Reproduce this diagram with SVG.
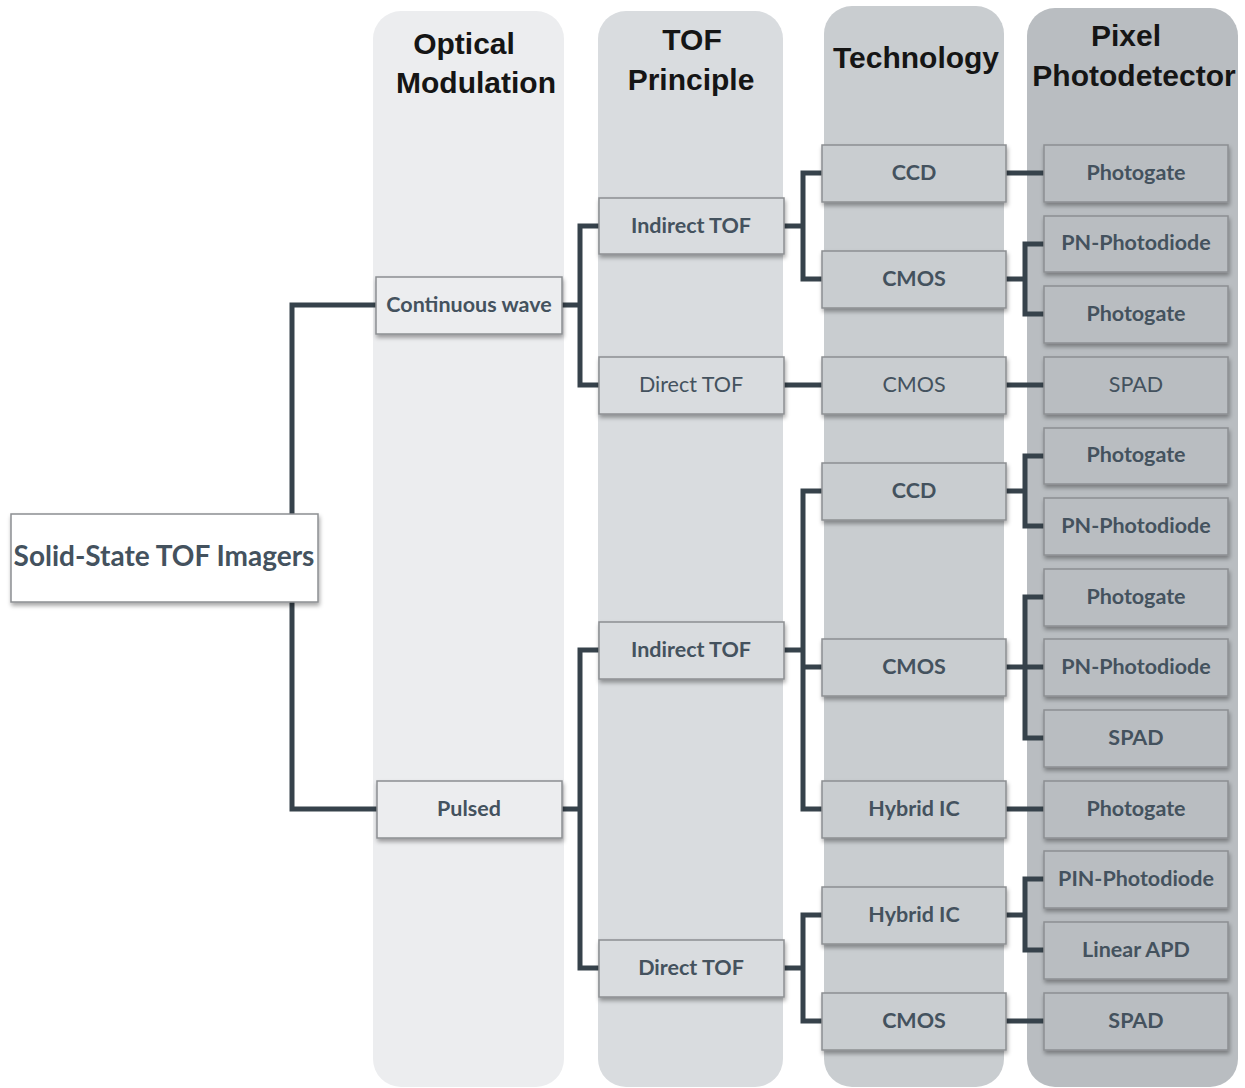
<svg xmlns="http://www.w3.org/2000/svg" width="1245" height="1088" viewBox="0 0 1245 1088">
  <style>
    .col-title { font-family: "Liberation Sans", Arial, sans-serif; font-weight: bold; font-size: 30px; fill: #151515; text-anchor: middle; }
    .node rect { stroke: #8c8f92; stroke-width: 1.5; filter: url(#shadow); }
    .node text { font-family: Lato, "Open Sans", sans-serif; font-weight: bold; font-size: 21.5px; fill: #44525e; text-anchor: middle; }
    .node text.light { font-weight: normal; }
    .c1 rect { fill: #ecedef; }
    .c2 rect { fill: #d9dcdf; }
    .c3 rect { fill: #c9cdd0; }
    .c4 rect { fill: #b9bdc1; }
    #links path { fill: none; stroke: #36424b; stroke-width: 5; stroke-linejoin: miter; }
  </style>
  <defs>
    <filter id="shadow" x="-10%" y="-20%" width="125%" height="160%">
      <feDropShadow dx="1" dy="3" stdDeviation="2" flood-color="#000" flood-opacity="0.35"/>
    </filter>
  </defs>

  <rect width="1245" height="1088" fill="#ffffff"/>

  <!-- column bands -->
  <g id="columns">
    <rect x="373" y="11" width="191" height="1076" rx="28" fill="#ecedef"/>
    <rect x="598" y="11" width="185" height="1076" rx="28" fill="#d9dcdf"/>
    <rect x="824" y="6" width="180" height="1081" rx="28" fill="#c9cdd0"/>
    <rect x="1027" y="8" width="211" height="1079" rx="28" fill="#b9bdc1"/>
    <text class="col-title" x="464" y="54">Optical</text>
    <text class="col-title" x="476" y="93">Modulation</text>
    <text class="col-title" x="692" y="50">TOF</text>
    <text class="col-title" x="691" y="90">Principle</text>
    <text class="col-title" x="916" y="68">Technology</text>
    <text class="col-title" x="1126" y="46">Pixel</text>
    <text class="col-title" x="1134" y="86">Photodetector</text>
  </g>

  <!-- connectors -->
  <g id="links">
    <path d="M292 514 V305 H376"/>
    <path d="M292 602 V809 H377"/>
    <path d="M562 305 H580 M599 226 H580 V385 H599"/>
    <path d="M562 809 H580 M599 650 H580 V968 H599"/>
    <path d="M784 226 H803 M822 173 H803 V279 H822"/>
    <path d="M784 385 H822"/>
    <path d="M784 650 H803 M822 491 H803 V809 H822 M803 667 H822"/>
    <path d="M784 968 H803 M822 915 H803 V1021 H822"/>
    <path d="M1006 173 H1044"/>
    <path d="M1006 279 H1025 M1044 244 H1025 V314 H1044"/>
    <path d="M1006 385 H1044"/>
    <path d="M1006 491 H1025 M1044 456 H1025 V526 H1044"/>
    <path d="M1006 667 H1025 M1044 597 H1025 V738 H1044 M1025 667 H1044"/>
    <path d="M1006 809 H1044"/>
    <path d="M1006 915 H1025 M1044 879 H1025 V950 H1044"/>
    <path d="M1006 1021 H1044"/>
  </g>

  <!-- root -->
  <g id="root" class="node">
    <rect x="11" y="514" width="307" height="88" fill="#ffffff"/>
    <text x="164" y="566" style="font-size:28px">Solid-State TOF Imagers</text>
  </g>

  <!-- optical modulation -->
  <g id="om-cw" class="node c1"><rect x="376" y="277" width="186" height="57"/><text x="469" y="312">Continuous wave</text></g>
  <g id="om-pulsed" class="node c1"><rect x="377" y="781" width="185" height="57"/><text x="469" y="816">Pulsed</text></g>

  <!-- TOF principle -->
  <g id="tp-itof-1" class="node c2"><rect x="599" y="198" width="185" height="56"/><text x="691" y="233">Indirect TOF</text></g>
  <g id="tp-dtof-1" class="node c2"><rect x="599" y="357" width="185" height="57"/><text class="light" x="691" y="392">Direct TOF</text></g>
  <g id="tp-itof-2" class="node c2"><rect x="599" y="622" width="185" height="57"/><text x="691" y="657">Indirect TOF</text></g>
  <g id="tp-dtof-2" class="node c2"><rect x="599" y="940" width="185" height="57"/><text x="691" y="975">Direct TOF</text></g>

  <!-- technology -->
  <g id="t-ccd-1" class="node c3"><rect x="822" y="145" width="184" height="57"/><text x="914" y="180">CCD</text></g>
  <g id="t-cmos-1" class="node c3"><rect x="822" y="251" width="184" height="57"/><text x="914" y="286">CMOS</text></g>
  <g id="t-cmos-2" class="node c3"><rect x="822" y="357" width="184" height="57"/><text class="light" x="914" y="392">CMOS</text></g>
  <g id="t-ccd-2" class="node c3"><rect x="822" y="463" width="184" height="57"/><text x="914" y="498">CCD</text></g>
  <g id="t-cmos-3" class="node c3"><rect x="822" y="639" width="184" height="57"/><text x="914" y="674">CMOS</text></g>
  <g id="t-hybrid-1" class="node c3"><rect x="822" y="781" width="184" height="57"/><text x="914" y="816">Hybrid IC</text></g>
  <g id="t-hybrid-2" class="node c3"><rect x="822" y="887" width="184" height="57"/><text x="914" y="922">Hybrid IC</text></g>
  <g id="t-cmos-4" class="node c3"><rect x="822" y="993" width="184" height="57"/><text x="914" y="1028">CMOS</text></g>

  <!-- pixel photodetector -->
  <g id="p-pg-1" class="node c4"><rect x="1044" y="145" width="184" height="57"/><text x="1136" y="180">Photogate</text></g>
  <g id="p-pn-1" class="node c4"><rect x="1044" y="216" width="184" height="56"/><text x="1136" y="250">PN-Photodiode</text></g>
  <g id="p-pg-2" class="node c4"><rect x="1044" y="286" width="184" height="57"/><text x="1136" y="321">Photogate</text></g>
  <g id="p-spad-1" class="node c4"><rect x="1044" y="357" width="184" height="57"/><text class="light" x="1136" y="392">SPAD</text></g>
  <g id="p-pg-3" class="node c4"><rect x="1044" y="428" width="184" height="56"/><text x="1136" y="462">Photogate</text></g>
  <g id="p-pn-2" class="node c4"><rect x="1044" y="498" width="184" height="57"/><text x="1136" y="533">PN-Photodiode</text></g>
  <g id="p-pg-4" class="node c4"><rect x="1044" y="569" width="184" height="57"/><text x="1136" y="604">Photogate</text></g>
  <g id="p-pn-3" class="node c4"><rect x="1044" y="639" width="184" height="57"/><text x="1136" y="674">PN-Photodiode</text></g>
  <g id="p-spad-2" class="node c4"><rect x="1044" y="710" width="184" height="57"/><text x="1136" y="745">SPAD</text></g>
  <g id="p-pg-5" class="node c4"><rect x="1044" y="781" width="184" height="57"/><text x="1136" y="816">Photogate</text></g>
  <g id="p-pin" class="node c4"><rect x="1044" y="851" width="184" height="57"/><text x="1136" y="886">PIN-Photodiode</text></g>
  <g id="p-apd" class="node c4"><rect x="1044" y="922" width="184" height="57"/><text x="1136" y="957">Linear APD</text></g>
  <g id="p-spad-3" class="node c4"><rect x="1044" y="993" width="184" height="57"/><text x="1136" y="1028">SPAD</text></g>
</svg>
